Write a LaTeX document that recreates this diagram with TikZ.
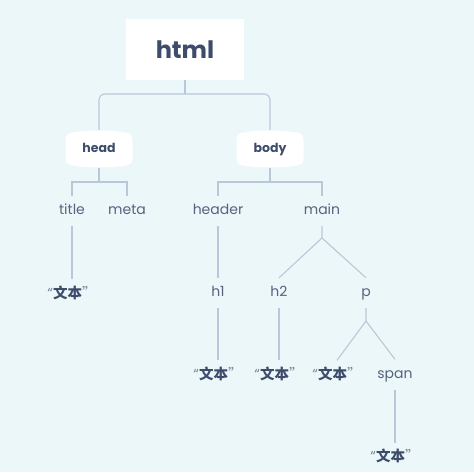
\documentclass[tikz,border=0pt]{standalone}
\usepackage{fontspec}
\setmainfont{Poppins}
\newfontfamily\cjk{Noto Sans CJK SC}
\usetikzlibrary{calc}
\definecolor{bg}{HTML}{ECF7F9}
\definecolor{ink}{HTML}{3E4C6B}
\definecolor{soft}{HTML}{56637E}
\definecolor{wire}{HTML}{B8C8D8}
\definecolor{quo}{HTML}{7A869C}
\newcommand\pillbg[2]{\fill[white,shift={(#1,#2)}] (-33.5,-9) .. controls (-33.5,-14) and (-31.5,-16) .. (-25,-16.8) .. controls (-12,-19) and (12,-19) .. (25,-16.8) .. controls (31.5,-16) and (33.5,-14) .. (33.5,-9) -- (33.5,9) .. controls (33.5,14) and (31.5,16) .. (25,16.8) .. controls (12,19) and (-12,19) .. (-25,16.8) .. controls (-31.5,16) and (-33.5,14) .. (-33.5,9) -- cycle;}
\newcommand\wenben{{\color{quo}\mdseries “}\cjk\bfseries 文本{\color{quo}\mdseries ”}}
\begin{document}
\begin{tikzpicture}[x=1pt,y=-1pt,
 conn/.style={draw=wire,line width=1.1pt},
 lbl/.style={text=soft,font=\fontsize{14}{16}\selectfont,inner sep=0,minimum height=30,text height=10,text depth=3},
 txt/.style={text=ink,font=\fontsize{14.5}{16}\selectfont,inner sep=0,minimum height=30,text height=10,text depth=3},
 pill/.style={text=ink,font=\bfseries\fontsize{12.5}{14}\selectfont,minimum width=67,minimum height=38,inner sep=0,text height=9,text depth=2},
 top/.style={fill=white,minimum width=118,minimum height=61,inner sep=0,text=ink,font=\bfseries\fontsize{24}{28}\selectfont}]
\fill[bg] (0,0) rectangle (474,472);
\useasboundingbox (0,0) rectangle (474,472);
\pillbg{99}{149}
\pillbg{270}{149}
\node[top] (html) at (185,49.5) {html};
\node[pill] (head) at (99,149) {head};
\node[pill] (body) at (270,149) {body};
\node[lbl] (title) at (72,211) {title};
\node[lbl] (meta) at (127,211) {meta};
\node[lbl] (header) at (218,211) {header};
\node[lbl] (main) at (322,211) {main};
\node[txt] (t1) at (72,294.5) {\wenben};
\node[lbl] (h1) at (218,293) {h1};
\node[lbl] (h2) at (279,293) {h2};
\node[lbl] (p) at (366,293) {p};
\node[txt] (t2) at (218,375.5) {\wenben};
\node[txt] (t3) at (279,375.5) {\wenben};
\node[txt] (t4) at (337,375.5) {\wenben};
\node[lbl] (span) at (395,374.5) {span};
\node[txt] (t5) at (395,458) {\wenben};
\coordinate (hb) at (185,94);
\coordinate (hk) at (99,182);
\coordinate (bk) at (270,182);
\coordinate (mk) at (322,238);
\coordinate (pk) at (366,321);
\draw[conn] (html.south) -- (hb);
\draw[conn,rounded corners=6] (head.north) |- (hb) -| (body.north);
\draw[conn] (head.south) -- (hk);
\draw[conn] (title.north) |- (hk) -| (meta.north);
\draw[conn] (body.south) -- (bk);
\draw[conn] (header.north) |- (bk) -| (main.north);
\draw[conn] (title.south) -- (t1.north);
\draw[conn] (header.south) -- (h1.north);
\draw[conn] (h1.south) -- (t2.north);
\draw[conn] (main.south) -- (mk) -- (h2.north);
\draw[conn] (mk) -- (p.north);
\draw[conn] (h2.south) -- (t3.north);
\draw[conn] (p.south) -- (pk) -- (t4.north);
\draw[conn] (pk) -- (span.north);
\draw[conn] (span.south) -- (t5.north);
\end{tikzpicture}
\end{document}
